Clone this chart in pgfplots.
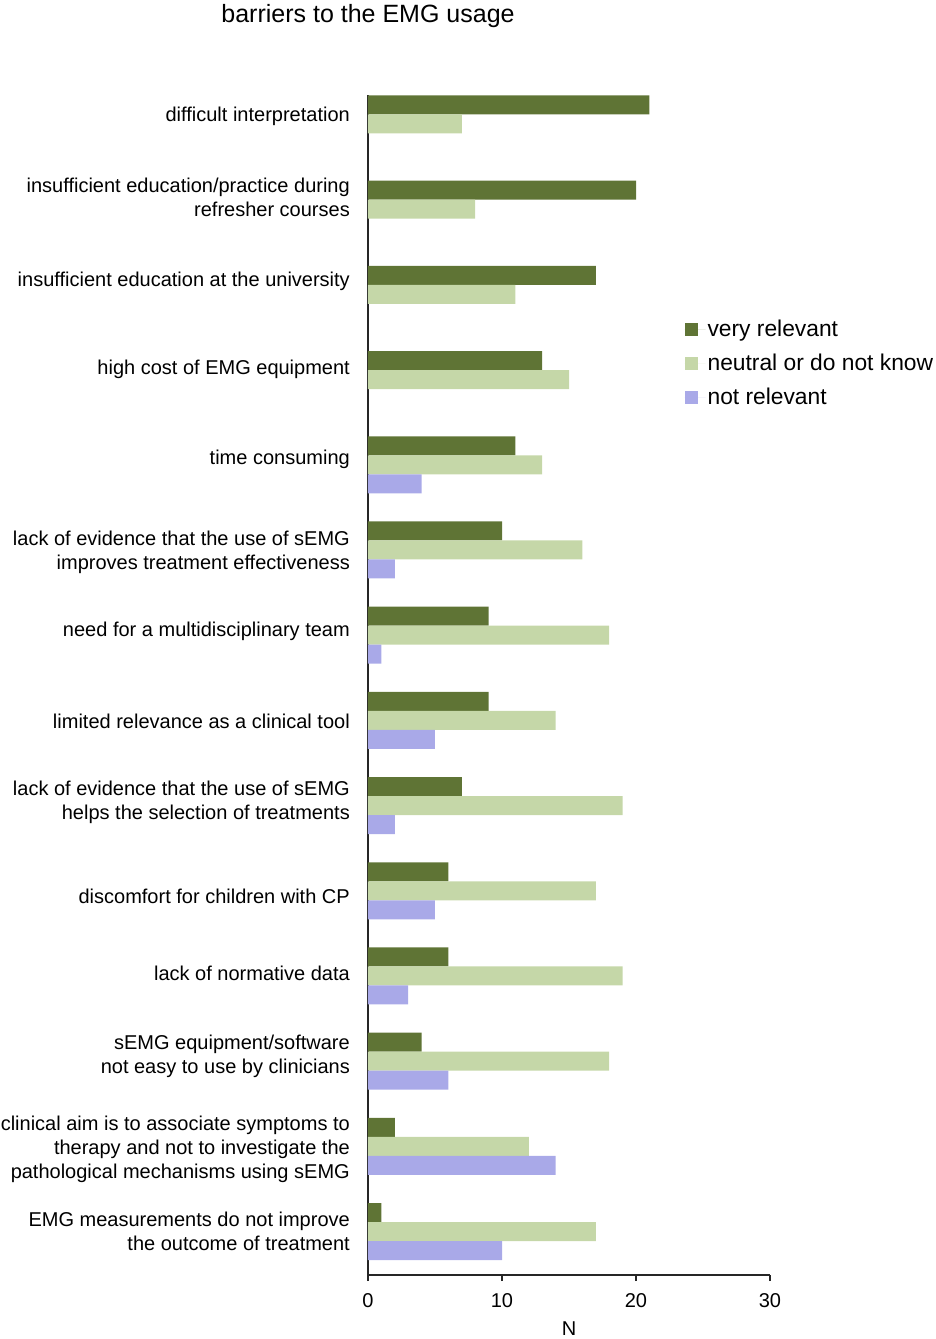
\documentclass[border=0pt]{standalone}
\usepackage{fontspec}
\setmainfont{Liberation Sans}
\usepackage{pgfplots}
\pgfplotsset{compat=1.18}
\definecolor{vr}{RGB}{95,116,53}
\definecolor{nk}{RGB}{197,215,168}
\definecolor{nr}{RGB}{169,169,232}
\begin{document}
\begin{tikzpicture}
\path[use as bounding box] (0pt,0pt) rectangle (936pt,1339pt);
\node[font=\fontsize{25}{30}\selectfont] at (368pt,1323pt) {barriers to the EMG usage};
\begin{axis}[
  at={(368pt,64pt)}, anchor=south west,
  scale only axis, width=402pt, height=1180pt,
  xbar, y dir=reverse,
  xmin=0, xmax=30, ymin=-0.34, ymax=13.51,
  axis x line*=bottom, axis y line*=left,
  axis line style={line width=1.5pt, draw=black!85, -},
  xtick={0,10,20,30},
  tick align=outside,
  x tick style={line width=1.2pt, draw=black!85},
  major tick length=6pt,
  ytick={-0.094,0.857,1.843,2.876,3.932,5.029,5.951,7.007,7.964,9.061,9.965,10.945,12.031,12.993},
  y tick style={draw=none},
  /pgf/number format/assume math mode=true,
  xticklabel style={font=\fontsize{20}{24}\selectfont, yshift=-9pt},
  yticklabel style={font=\fontsize{20}{24}\selectfont, align=right, inner sep=0pt, xshift=-12pt},
  yticklabels={
    {difficult interpretation},
    {insufficient education/practice during\\refresher courses},
    {insufficient education at the university},
    {high cost of EMG equipment},
    {time consuming},
    {lack of evidence that the use of sEMG\\improves treatment effectiveness},
    {need for a multidisciplinary team},
    {limited relevance as a clinical tool},
    {lack of evidence that the use of sEMG\\helps the selection of treatments},
    {discomfort for children with CP},
    {lack of normative data},
    {sEMG equipment/software\\not easy to use by clinicians},
    {clinical aim is to associate symptoms to\\therapy and not to investigate the\\pathological mechanisms using sEMG},
    {EMG measurements do not improve\\the outcome of treatment}
  },
  xlabel={N},
  xlabel style={font=\fontsize{20}{24}\selectfont, yshift=-7pt},
  bar width=0.223,
  legend image code/.code={\fill[#1, draw=none] (0pt,-6.5pt) rectangle (13pt,6.5pt); \path (0pt,0pt) -- (21pt,0pt);},
  legend style={draw=none, fill=none, at={(0.787,0.811)}, anchor=north west,
    font=\fontsize{22.8}{27}\selectfont, row sep=12pt, inner sep=0pt,
    /tikz/every even column/.append style={column sep=0pt}},
  legend cell align=left,
]
\addplot[fill=vr, draw=none, bar shift=-0.223] coordinates {
  (21,0) (20,1) (17,2) (13,3) (11,4) (10,5) (9,6) (9,7) (7,8) (6,9) (6,10) (4,11) (2,12) (1,13)};
\addplot[fill=nk, draw=none, bar shift=0] coordinates {
  (7,0) (8,1) (11,2) (15,3) (13,4) (16,5) (18,6) (14,7) (19,8) (17,9) (19,10) (18,11) (12,12) (17,13)};
\addplot[fill=nr, draw=none, bar shift=0.223] coordinates {
  (4,4) (2,5) (1,6) (5,7) (2,8) (5,9) (3,10) (6,11) (14,12) (10,13)};
\legend{very relevant, neutral or do not know, not relevant}
\end{axis}
\end{tikzpicture}
\end{document}
